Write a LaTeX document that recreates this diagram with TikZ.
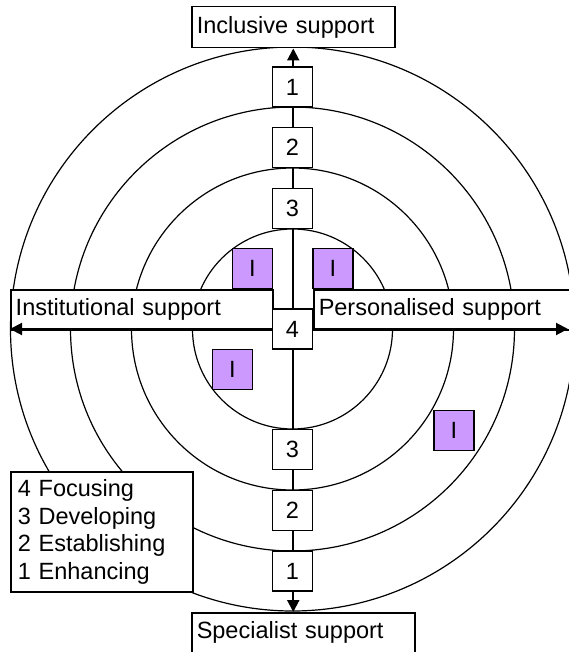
\documentclass[tikz,border=0pt]{standalone}
\usepackage{fontspec}
\setmainfont{Liberation Sans}
\usetikzlibrary{arrows.meta}
\definecolor{ipurple}{RGB}{204,153,255}

\begin{document}
\begin{tikzpicture}[x=1pt, y=-1pt, line join=miter]
  \def\cx{292.5} % centre of the rings
  \def\cy{329}
  \tikzset{
    ring/.style={line width=1.2pt, draw=black},
    axis/.style={line width=2pt, {Triangle[length=12pt, width=12pt]}-{Triangle[length=12pt, width=12pt]}, draw=black},
    side_box/.style={draw=black, line width=1.5pt, fill=white, inner sep=5pt, align=left,
      minimum height=40pt, anchor=north west, font=\fontsize{23.5}{27.5}\selectfont},
    num_box/.style={draw=black, line width=1.5pt, fill=white, minimum size=40pt, inner sep=0pt,
      font=\fontsize{23.5}{27.5}\selectfont},
    i_box/.style={num_box, fill=ipurple}
  }
  \useasboundingbox (0,0) rectangle (569,652);
  \clip (0,0) rectangle (569,652);

  % 4 vòng tròn
  \foreach \rad in {100, 161, 222, 282} {
    \draw[ring] (\cx, \cy) circle[radius=\rad];
  }

  % hộp hai bên trục ngang
  \node[side_box, text width=252pt] (inst) at (10, 289) {Institutional support};
  \node[side_box, text width=262pt] (pers) at (313, 289) {Personalised support};

  % hộp trên, dưới
  \node[side_box, text width=193pt, minimum height=41pt] (inc) at (191, 6) {Inclusive support};
  \node[side_box, text width=213pt, minimum height=39.5pt] (spec) at (191, 612) {Specialist support};

  % trục
  \coordinate (west) at (10, \cy);
  \coordinate (east) at (568, \cy);
  \draw[axis] (west) -- (east);
  \draw[axis] (inc.south) -- (inc.south |- spec.north);

  % ô số
  \node[num_box] (n4) at (\cx, \cy) {4};
  \foreach \n/\d in {1/242, 2/181.5, 3/120.5} {
    \node[num_box] (n\n_up) at (\cx, \cy-\d) {\n};
    \node[num_box] (n\n_dn) at (\cx, \cy+\d) {\n};
  }

  % ô I
  \node[i_box] (i_a) at (252.5, 268.5) {I};
  \node[i_box] (i_b) at (333, 268.5) {I};
  \node[i_box] (i_c) at (232.5, 369.5) {I};
  \node[i_box] (i_d) at (454, 430.5) {I};

  % chú thích
  \node[side_box, inner xsep=7pt, text width=168pt, minimum height=120pt] (legend) at (10, 471)
    {4 Focusing\\3 Developing\\2 Establishing\\1 Enhancing};

\end{tikzpicture}
\end{document}
